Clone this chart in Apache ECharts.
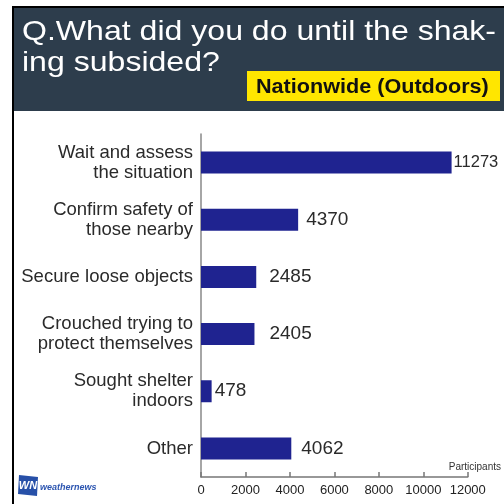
<!DOCTYPE html>
<html>
<head>
<meta charset="utf-8">
<script src="https://cdn.jsdelivr.net/npm/echarts@6/dist/echarts.min.js"></script>
<style>
  html, body { margin: 0; padding: 0; background: #ffffff; }
  #chart { width: 504px; height: 504px; }
</style>
</head>
<body>
<div id="chart"></div>
<script>
// Survey answers, listed top to bottom
const categories = [
  'Wait and assess\nthe situation',
  'Confirm safety of\nthose nearby',
  'Secure loose objects',
  'Crouched trying to\nprotect themselves',
  'Sought shelter\nindoors',
  'Other'
];
const participants = [11273, 4370, 2485, 2405, 478, 4062];
const xTicks = [0, 2000, 4000, 6000, 8000, 10000, 12000];

const titleLine1 = 'Q.What did you do until the shak-';
const titleLine2 = 'ing subsided?';
const regionTag = 'Nationwide (Outdoors)';

const labelFont = "'Liberation Sans', Arial, sans-serif";

// value labels sit a little further off the shorter bars;
// the longest bar's label is set tighter so it stays inside the frame
const labelGap = [2, 8, 13, 15, 3, 10];
const labelSize = [16.5, 19, 19, 19, 19, 19];

const chart = echarts.init(document.getElementById('chart'), null, { renderer: 'canvas' });

chart.setOption({
  backgroundColor: '#ffffff',
  animation: false,
  grid: { left: 201, right: 33, top: 134, bottom: 27, containLabel: false },
  xAxis: {
    type: 'value',
    min: xTicks[0],
    max: xTicks[xTicks.length - 1],
    interval: xTicks[1] - xTicks[0],
    name: 'Participants',
    nameLocation: 'end',
    nameGap: -19,
    nameTextStyle: {
      fontFamily: labelFont, fontSize: 10, color: '#333',
      align: 'left', verticalAlign: 'bottom', padding: [0, 0, 5, 0]
    },
    axisLine: { show: true, lineStyle: { color: '#777', width: 1.5 } },
    axisTick: { show: true, inside: true, length: 5, lineStyle: { color: '#777', width: 1.5 } },
    axisLabel: {
      fontFamily: labelFont, fontSize: 13, color: '#222', margin: 7,
      showMinLabel: true, showMaxLabel: true, hideOverlap: false,
      formatter: (v) => String(v)
    },
    splitLine: { show: false }
  },
  yAxis: {
    type: 'category',
    data: categories,
    inverse: true,
    axisLine: { show: true, lineStyle: { color: '#888', width: 1.5 } },
    axisTick: { show: false },
    axisLabel: {
      fontFamily: labelFont, fontSize: 18.5, color: '#2a2a2a',
      lineHeight: 20, margin: 8, align: 'right'
    }
  },
  series: [{
    type: 'bar',
    barWidth: 22,
    itemStyle: { color: '#1f2390' },
    data: participants.map((v, i) => ({
      value: v,
      label: { distance: labelGap[i], fontSize: labelSize[i] }
    })),
    label: {
      show: true,
      position: 'right',
      fontFamily: labelFont,
      fontSize: 19,
      color: '#2a2a2a'
    }
  }],
  graphic: [
    // header band
    { type: 'rect', shape: { x: 12, y: 7, width: 492, height: 104 }, style: { fill: '#2d3d4c' }, z: 0 },
    // frame lines
    { type: 'line', shape: { x1: 12, y1: 7, x2: 504, y2: 7 }, style: { stroke: '#000', lineWidth: 2 }, z: 1 },
    { type: 'line', shape: { x1: 13, y1: 7, x2: 13, y2: 504 }, style: { stroke: '#000', lineWidth: 2 }, z: 1 },
    // title, widened to fill the band
    { type: 'text', x: 22, y: 32, scaleX: 1.145, z: 2,
      style: { text: titleLine1, fill: '#ffffff', font: "28px 'Liberation Sans', Arial, sans-serif", verticalAlign: 'middle' } },
    { type: 'text', x: 22, y: 63, scaleX: 1.145, z: 2,
      style: { text: titleLine2, fill: '#ffffff', font: "28px 'Liberation Sans', Arial, sans-serif", verticalAlign: 'middle' } },
    // region tag
    { type: 'rect', shape: { x: 247, y: 71, width: 253, height: 30 }, style: { fill: '#ffe600' }, z: 2 },
    { type: 'text', x: 256, y: 87, scaleX: 1.08, z: 3,
      style: { text: regionTag, fill: '#111', font: "bold 20px 'Liberation Sans', Arial, sans-serif", verticalAlign: 'middle' } },
    // brand mark
    { type: 'polygon', shape: { points: [[19, 475], [38, 477], [37, 496], [18, 494]] }, style: { fill: '#2750a8' }, z: 2 },
    { type: 'text', x: 28, y: 486, z: 3,
      style: { text: 'WN', fill: '#ffffff', font: "italic bold 11px 'Liberation Sans', Arial, sans-serif", align: 'center', verticalAlign: 'middle' } },
    { type: 'text', x: 40, y: 488, z: 3,
      style: { text: 'weathernews', fill: '#2c55b0', font: "italic bold 9px 'Liberation Sans', Arial, sans-serif", verticalAlign: 'middle' } }
  ]
});
</script>
</body>
</html>
